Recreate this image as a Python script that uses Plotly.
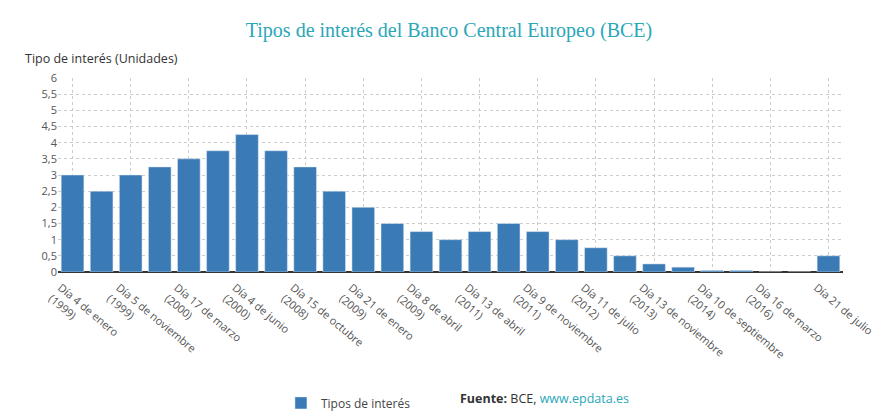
import plotly.graph_objects as go

fechas = ["Día 4 de enero<br>(1999)","Día 9 de abril<br>(1999)","Día 5 de noviembre<br>(1999)","Día 4 de febrero<br>(2000)",
"Día 17 de marzo<br>(2000)","Día 28 de abril<br>(2000)","Día 4 de junio<br>(2000)","Día 9 de octubre<br>(2008)",
"Día 15 de octubre<br>(2008)","Día 10 de diciembre<br>(2008)","Día 21 de enero<br>(2009)","Día 11 de marzo<br>(2009)",
"Día 8 de abril<br>(2009)","Día 13 de mayo<br>(2009)","Día 13 de abril<br>(2011)","Día 13 de julio<br>(2011)",
"Día 9 de noviembre<br>(2011)","Día 14 de diciembre<br>(2011)","Día 11 de julio<br>(2012)","Día 8 de mayo<br>(2013)",
"Día 13 de noviembre<br>(2013)","Día 11 de junio<br>(2014)","Día 10 de septiembre<br>(2014)","Día 10 de diciembre<br>(2015)",
"Día 16 de marzo<br>(2016)","Día 1 de enero<br>(2022)","Día 21 de julio"]
tipos = [3, 2.5, 3, 3.25, 3.5, 3.75, 4.25, 3.75, 3.25, 2.5, 2, 1.5, 1.25, 1, 1.25, 1.5, 1.25, 1, 0.75, 0.5, 0.25, 0.15, 0.05, 0.05, 0, 0, 0.5]

fig = go.Figure(go.Bar(x=fechas, y=tipos, name="Tipos de interés", marker_color="#3a7ab5", width=0.78))
fig.update_layout(
    width=882, height=416, plot_bgcolor="white", paper_bgcolor="white",
    separators=",.",
    margin=dict(l=50, r=47, t=70, b=152, autoexpand=False),
    title=dict(text="Tipos de interés del Banco Central Europeo (BCE)", x=0.5, y=0.965, xanchor="center",
               font=dict(family="Liberation Serif, serif", size=20, color="#2aa7b8")),
    font=dict(family="Open Sans, sans-serif", size=12, color="#444"),
    showlegend=True,
    legend=dict(orientation="h", x=0.37, xanchor="center", y=-0.6, yanchor="top", font=dict(size=12)),
    bargap=0.2,
)
fig.update_xaxes(tickvals=fechas[::2], tickangle=40, showgrid=True, gridcolor="#ccc", griddash="dot",
                 showline=True, linecolor="#333", ticks="", ticklabelshift=-12, ticklabelstandoff=4,
                 tickfont=dict(size=11, color="#555"))
fig.update_yaxes(range=[0, 6], dtick=0.5, showgrid=True, gridcolor="#ccc", griddash="dot",
                 zeroline=True, zerolinecolor="#333", tickfont=dict(size=11, color="#555"))
fig.add_annotation(text="Tipo de interés (Unidades)", xref="paper", yref="paper", x=-0.045, y=1.045,
                   xanchor="left", yanchor="bottom", showarrow=False, font=dict(size=12.5, color="#333"))
fig.add_annotation(text="<b>Fuente:</b> BCE, <span style='color:#2aa7b8'>www.epdata.es</span>", xref="paper", yref="paper",
                   x=0.62, y=-0.6, xanchor="center", yanchor="top", showarrow=False, font=dict(size=12.5, color="#333"))
fig.write_html("out.html")
